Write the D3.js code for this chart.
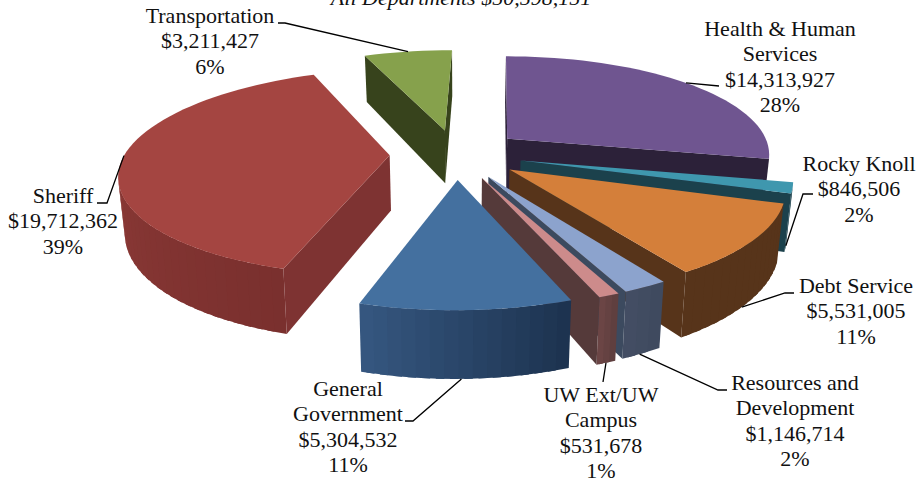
<!DOCTYPE html>
<html>
<head>
<meta charset="utf-8">
<style>
html,body{margin:0;padding:0;background:#fff;overflow:hidden}
svg{display:block}
text{font-family:"Liberation Serif","Times New Roman",serif;fill:#111}
</style>
<script src="https://cdn.jsdelivr.net/npm/d3@7/dist/d3.min.js"></script>
</head>
<body>
<svg id="chart" width="918" height="479"></svg>
<script>
// ---- data ----
const titleText = "All Departments $50,598,151";
const categories = ["Health & Human Services","Rocky Knoll","Debt Service","Resources and Development","UW Ext/UW Campus","General Government","Sheriff","Transportation"];
const values = [14313927,846506,5531005,1146714,531678,5304532,19712362,3211427];
const percents = ["28%","2%","11%","2%","1%","11%","39%","6%"];
const wrappedNames = [["Health & Human","Services"],["Rocky Knoll"],["Debt Service"],["Resources and","Development"],["UW Ext/UW","Campus"],["General","Government"],["Sheriff"],["Transportation"]];

// ---- styles ----
const topColors = ["#6f5590","#3f97ae","#d47f3a","#8ca3cd","#cd8b8b","#44709f","#a44541","#86a14c"];
const wallColors = ["#2c2139","#1b414c","#57341a","#3c4a5f","#553a3a","#2a4468","#7e3332","#37431c"];
const arcFrom = ["#2c2139","#1b414c","#57341a","#3f4a5f","#5f3f3f","#1d3350","#7a302e","#37431c"];
const arcTo   = ["#2c2139","#1b414c","#57341a","#434d63","#6b4545","#35567f","#9e433f","#37431c"];

// ---- layout ----
const paintOrder = [7,0,6,1,2,3,4,5];
const cam = {cx:456, cy:154, A:265, B:100, p:0.16, e:0.25, D:55, shrink:0.02, leanBack:42, leanFront:17};
const fontPx = 22, lineH = 25.4;
// label centre x, first baseline y, elbow points, leader anchor (fraction along the arc, on top or bottom rim)
const labelLayout = [
  {x:780,y:36, elbow:[[719,86]],           t:0.49,z:0},
  {x:859,y:171,elbow:[[813,194],[803,194]],t:0.5, z:1},
  {x:856,y:293,elbow:[[794,293],[785,293]],t:0.55,z:1},
  {x:795,y:390,elbow:[[727,390],[718,390]],t:0.55,z:1},
  {x:601,y:402,elbow:[[603,382]],          t:0.5, z:1},
  {x:348,y:396,elbow:[[405,421],[413,421]],t:0.52,z:1},
  {x:63, y:203,elbow:[[97,203],[107,203]], t:0.52,z:0},
  {x:210,y:23, elbow:[[278,23],[285,23]],  t:0.5, z:0}
];

const svg = d3.select("#chart");
const arcs = d3.pie().sort(null).startAngle(0).endAngle(2*Math.PI)(values);
const money = d3.format("$,");

// a point on the tilted, perspective-projected disc, for slice d
function project(d, r, a, z){
  const m = (d.startAngle + d.endAngle)/2;
  const u = r*Math.sin(a) + cam.e*Math.sin(m);
  const v = r*Math.cos(a) + cam.e*Math.cos(m);
  const s = 1/(1 + cam.p*v);
  const lean = (s<1 ? cam.leanBack : cam.leanFront)*(1-s);
  return [cam.cx + cam.A*u*s*(1 - cam.shrink*z) + lean, cam.cy - cam.B*v*s + cam.D*z*s];
}
function area(pts){
  let t = 0;
  for(let i=0;i<pts.length;i++){const p=pts[i],q=pts[(i+1)%pts.length];t+=p[0]*q[1]-q[0]*p[1];}
  return t;
}
const line = d3.line();
const closed = pts => line(pts)+"Z";

paintOrder.forEach(i => {
  const d = arcs[i];
  const g = svg.append("g").attr("class","slice").attr("data-name",categories[i]);
  const n = Math.max(3, Math.round((d.endAngle-d.startAngle)/(Math.PI/72)));
  const angle = d3.scaleLinear().domain([0,n]).range([d.startAngle,d.endAngle]);
  const shade = d3.interpolateRgb(arcFrom[i],arcTo[i]);

  // outer wall, in thin vertical bands; each band runs slightly under the next so no seam shows
  d3.range(n).forEach(k => {
    const a0=angle(k),a1=angle(k+1),a2=angle(Math.min(n,k+1.6));
    const q=[project(d,1,a0,0),project(d,1,a1,0),project(d,1,a1,1),project(d,1,a0,1)];
    if(area(q)<0){
      const c=shade(k/(n-1));
      const q2=[project(d,1,a0,0),project(d,1,a2,0),project(d,1,a2,1),project(d,1,a0,1)];
      g.append("path").attr("d",closed(q2)).attr("fill",c);
    }
  });
  // radial walls
  const wall = a => [project(d,0,a,0),project(d,1,a,0),project(d,1,a,1),project(d,0,a,1)];
  const w0 = wall(d.startAngle), w1 = wall(d.endAngle);
  if(area(w0)<0) g.append("path").attr("d",closed(w0)).attr("fill",wallColors[i]);
  if(area(w1)>0) g.append("path").attr("d",closed(w1)).attr("fill",wallColors[i]);
  // top face
  const rim = d3.range(n+1).map(k => project(d,1,angle(k),0));
  g.append("path").attr("d",closed([project(d,0,0,0)].concat(rim))).attr("fill",topColors[i]);
});

// leaders and labels
labelLayout.forEach((l,i) => {
  const d = arcs[i];
  const a = d.startAngle + l.t*(d.endAngle-d.startAngle);
  const pts = l.elbow.concat([project(d,1,a,l.z)]);
  svg.append("path").attr("d",line(pts)).attr("fill","none").attr("stroke","#000").attr("stroke-width",1.3);
  const lines = wrappedNames[i].concat([money(values[i]),percents[i]]);
  const t = svg.append("text").attr("text-anchor","middle").attr("font-size",fontPx);
  lines.forEach((s,k) => t.append("tspan").attr("x",l.x).attr("y",l.y+k*lineH).text(s));
});

svg.append("text").attr("x",461).attr("y",5).attr("text-anchor","middle")
   .attr("font-size",fontPx).attr("font-style","italic").text(titleText);
</script>
</body>
</html>
